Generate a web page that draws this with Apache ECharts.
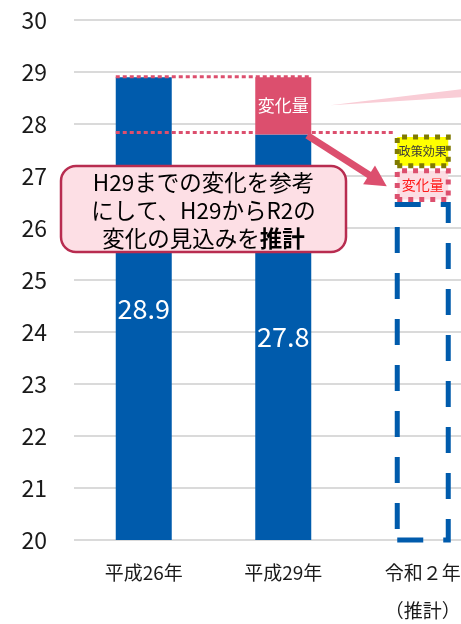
<!DOCTYPE html>
<html>
<head>
<meta charset="utf-8">
<script src="https://cdn.jsdelivr.net/npm/echarts@6/dist/echarts.min.js"></script>
<style>
html,body{margin:0;padding:0;background:#fff;}
#main{width:461px;height:624px;}
</style>
</head>
<body>
<div id="main"></div>
<script>
// ---- data ----
const categories = ['平成26年', '平成29年', '令和２年\n（推計）'];
const actualValues = [28.9, 27.8, null];
const changeValues = [null, 1.1, null];
const estimateBase = [null, null, 26.5];
const estimateChange = [null, null, 0.65];
const policyEffect = [null, null, 0.65];
const yMin = 20, yMax = 30, yInterval = 1;
const calloutLines = ['H29までの変化を参考', 'にして、H29からR2の', '変化の見込みを', '推計'];

const FONT = '"Noto Sans CJK JP", "Noto Sans", sans-serif';
const BLUE = '#005bac';
const PINK = '#dc4f6e';
const BW = 56;

const chart = echarts.init(document.getElementById('main'), null, {renderer: 'canvas'});

chart.setOption({
  backgroundColor: '#fff',
  animation: false,
  textStyle: {fontFamily: FONT},
  grid: {left: 74, top: 20, width: 418.5, height: 520, containLabel: false, outerBoundsMode: 'none'},
  xAxis: {
    type: 'category',
    data: categories,
    axisLine: {show: false},
    axisTick: {show: false},
    axisLabel: {fontSize: 19, color: '#1a1a1a', margin: 14, lineHeight: 38, fontFamily: FONT}
  },
  yAxis: {
    type: 'value',
    min: yMin, max: yMax, interval: yInterval,
    axisLine: {show: false},
    axisTick: {show: false},
    axisLabel: {fontSize: 23, color: '#1a1a1a', margin: 27, fontFamily: FONT},
    splitLine: {lineStyle: {color: '#dadada', width: 2}}
  },
  series: [
    {
      name: '実績', type: 'bar', stack: 'a', barWidth: BW,
      data: actualValues,
      itemStyle: {color: BLUE},
      label: {show: true, position: 'inside', color: '#fff', fontSize: 27, fontFamily: FONT}
    },
    {
      name: '変化量', type: 'bar', stack: 'a', barWidth: BW,
      data: changeValues,
      itemStyle: {color: PINK},
      label: {show: true, position: 'inside', color: '#fff', fontSize: 17, fontFamily: FONT, formatter: '変化量'}
    },
    {
      name: '推計', type: 'bar', stack: 'a', barWidth: BW - 2,
      data: estimateBase,
      itemStyle: {color: 'rgba(0,0,0,0)', borderColor: BLUE, borderWidth: 5, borderType: [26, 20]}
    },
    {
      name: '変化量（推計）', type: 'bar', stack: 'a', barWidth: BW,
      data: estimateChange,
      itemStyle: {color: '#fcdde3', borderColor: PINK, borderWidth: 5, borderType: [5, 6]},
      label: {show: true, position: 'inside', color: '#ff1a1a', fontSize: 14, fontFamily: FONT, formatter: '変化量'}
    },
    {
      name: '政策効果', type: 'bar', stack: 'a', barWidth: BW,
      data: policyEffect,
      itemStyle: {color: '#ffff00', borderColor: '#7f7a00', borderWidth: 5, borderType: [5, 6]},
      label: {show: true, position: 'inside', color: '#3a3a3a', fontSize: 12, fontFamily: FONT, formatter: '政策効果'}
    }
  ]
});

function px(ci, v) { return chart.convertToPixel({gridIndex: 0}, [ci, v]); }

const p0top = px(0, actualValues[0]);
const p1top = px(1, actualValues[1]);
const p1chg = px(1, actualValues[1] + changeValues[1]);
const p2base = px(2, estimateBase[2] + estimateChange[2]);
const W = chart.getWidth();

// arrow geometry
const start = [p1top[0] + 24, p1top[1] + 1];
const tip = [p2base[0] - 36, p2base[1] + 18];
const dx = tip[0] - start[0], dy = tip[1] - start[1];
const len = Math.sqrt(dx * dx + dy * dy);
const ux = dx / len, uy = dy / len;
const nx = -uy, ny = ux;
const headLen = 21, headHalf = 11;
const bc = [tip[0] - headLen * ux, tip[1] - headLen * uy];

const calloutText = '{n|' + calloutLines[0] + '}\n{n|' + calloutLines[1] + '}\n{n|' + calloutLines[2] + '}{b|' + calloutLines[3] + '}';

chart.setOption({
  graphic: [
    // faint wedge
    {type: 'polygon', z: 1, shape: {points: [[p1top[0] + 47, p1chg[1] + 28], [W, p1chg[1] + 12], [W, p1chg[1] + 20]]},
     style: {fill: '#f9cdd6'}},
    // dotted reference lines
    {type: 'line', z: 50, shape: {x1: p0top[0] - BW / 2, y1: p0top[1] - 0.5, x2: p1top[0] + BW / 2, y2: p0top[1] - 0.5},
     style: {stroke: PINK, lineWidth: 3, lineDash: [4, 3]}},
    {type: 'line', z: 50, shape: {x1: p0top[0] - BW / 2, y1: p1top[1] - 2, x2: p2base[0] - BW / 2 - 2, y2: p1top[1] - 2},
     style: {stroke: PINK, lineWidth: 3, lineDash: [4, 3]}},
    // arrow
    {type: 'line', z: 60, shape: {x1: start[0], y1: start[1], x2: bc[0] + ux * 2, y2: bc[1] + uy * 2},
     style: {stroke: PINK, lineWidth: 7}},
    {type: 'polygon', z: 60, shape: {points: [tip, [bc[0] + headHalf * nx, bc[1] + headHalf * ny], [bc[0] - headHalf * nx, bc[1] - headHalf * ny]]},
     style: {fill: PINK}},
    // callout box
    {type: 'rect', z: 70, shape: {x: 61, y: 166, width: 285, height: 86, r: 15},
     style: {fill: '#fddfe5', stroke: '#b82c50', lineWidth: 2.5}},
    {type: 'text', z: 71, x: 203.5, y: 210,
     style: {text: calloutText, align: 'center', verticalAlign: 'middle',
       rich: {
         n: {fontSize: 22.5, fontFamily: FONT, color: '#1a1a1a', lineHeight: 28},
         b: {fontSize: 22.5, fontFamily: FONT, color: '#1a1a1a', fontWeight: 'bold', lineHeight: 28}
       }}}
  ]
});
</script>
</body>
</html>
